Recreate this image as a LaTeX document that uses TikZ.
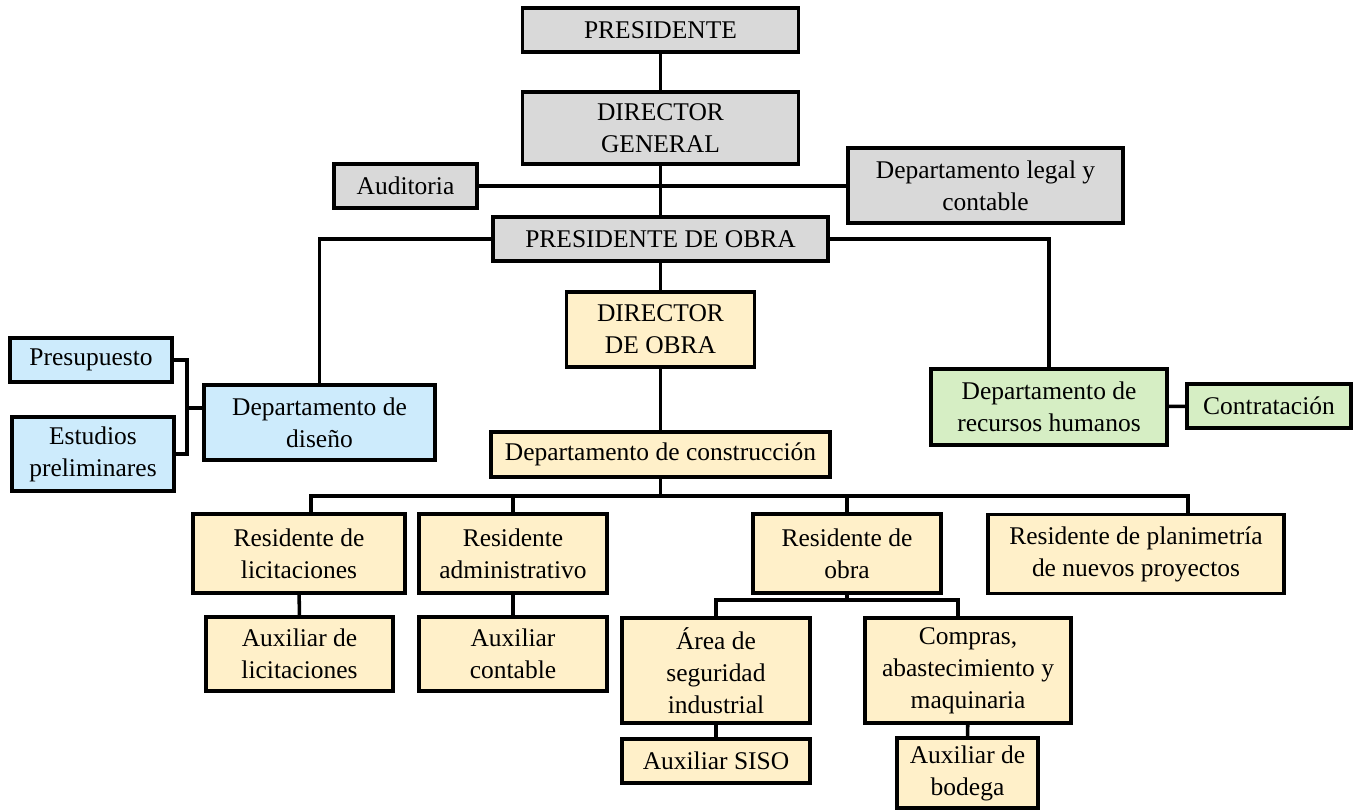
\documentclass[tikz,border=0pt]{standalone}
\usepackage{fontspec}
\setmainfont{Liberation Serif}
\usepackage{xcolor}
\usepackage{tikz}
\usetikzlibrary{positioning}
\definecolor{cgris}{HTML}{D9D9D9}
\definecolor{cazul}{HTML}{CDEBFC}
\definecolor{camar}{HTML}{FFF0C9}
\definecolor{cverde}{HTML}{D6EEC4}

\begin{document}
\begin{tikzpicture}[
  caja/.style={draw,line width=1.9pt,inner sep=0pt,align=center,
    font=\fontsize{14.5}{18.2}\selectfont},
  gris/.style={caja,fill=cgris},
  azul/.style={caja,fill=cazul},
  amar/.style={caja,fill=camar},
  verde/.style={caja,fill=cverde},
  lin/.style={line width=2pt}
]
  \useasboundingbox (0,0) rectangle (27.06,-16.22);

  \node[gris,minimum width=5.52cm,minimum height=0.88cm] (pres) at (13.21,-0.60) {PRESIDENTE};
  \node[gris,minimum width=5.52cm,minimum height=1.44cm] (dirg) at (13.21,-2.56) {DIRECTOR\\GENERAL};
  \node[gris,minimum width=2.86cm,minimum height=0.88cm] (aud) at (8.11,-3.72) {Auditoria};
  \node[gris,minimum width=5.50cm,minimum height=1.50cm] (legal) at (19.71,-3.71) {Departamento legal y\\contable};
  \node[gris,minimum width=6.70cm,minimum height=0.88cm] (pobra) at (13.21,-4.78) {PRESIDENTE DE OBRA};

  \node[amar,minimum width=3.76cm,minimum height=1.50cm] (dobra) at (13.21,-6.59) {DIRECTOR\\DE OBRA};
  \node[amar,minimum width=6.78cm,minimum height=0.90cm] (dcons) at (13.21,-9.09) {Departamento de construcción};

  \node[azul,minimum width=4.62cm,minimum height=1.50cm] (diseno) at (6.39,-8.45) {Departamento de\\diseño};
  \node[azul,minimum width=3.24cm,minimum height=0.88cm] (presup) at (1.82,-7.20) {Presupuesto};
  \node[azul,minimum width=3.24cm,minimum height=1.48cm] (estud) at (1.86,-9.08) {Estudios\\preliminares};

  \node[verde,minimum width=4.72cm,minimum height=1.52cm] (rrhh) at (20.98,-8.14) {Departamento de\\recursos humanos};
  \node[verde,minimum width=3.28cm,minimum height=0.88cm] (contr) at (25.38,-8.12) {Contratación};

  \node[amar,minimum width=4.24cm,minimum height=1.58cm] (rlic) at (5.98,-11.07) {Residente de\\licitaciones};
  \node[amar,minimum width=3.76cm,minimum height=1.58cm] (radm) at (10.26,-11.07) {Residente\\administrativo};
  \node[amar,minimum width=3.76cm,minimum height=1.58cm] (robra) at (16.94,-11.07) {Residente de\\obra};
  \node[amar,minimum width=5.92cm,minimum height=1.58cm] (rplan) at (22.72,-11.08) {Residente de planimetría\\de nuevos proyectos};

  \node[amar,minimum width=3.74cm,minimum height=1.48cm] (alic) at (5.99,-13.08) {Auxiliar de\\licitaciones};
  \node[amar,minimum width=3.76cm,minimum height=1.48cm] (acont) at (10.26,-13.08) {Auxiliar\\contable};
  \node[amar,minimum width=3.76cm,minimum height=2.10cm] (area) at (14.32,-13.41) {Área de\\seguridad\\industrial};
  \node[amar,minimum width=4.12cm,minimum height=2.10cm] (compras) at (19.36,-13.41) {Compras,\\abastecimiento y\\maquinaria};
  \node[amar,minimum width=3.76cm,minimum height=0.88cm] (asiso) at (14.32,-15.22) {Auxiliar SISO};
  \node[amar,minimum width=2.82cm,minimum height=1.40cm] (abod) at (19.35,-15.46) {Auxiliar de\\bodega};

  \coordinate (brk) at (3.74,-8.16);
  \coordinate (bus) at (13.21,-9.92);
  \coordinate (busL) at (6.22,-9.92);
  \coordinate (busR) at (23.76,-9.92);
  \coordinate (subR) at (19.16,-12.00);

  \draw[lin] (pres) -- (dirg);
  \draw[lin] (dirg) -- (pobra);
  \draw[lin] (aud) -- (aud -| legal.west);
  \draw[lin] (pobra.west) -| (diseno.north);
  \draw[lin] (pobra.east) -| (rrhh.north);
  \draw[lin] (pobra) -- (dobra);
  \draw[lin] (dobra) -- (dcons);
  \draw[lin] (rrhh) -- (contr);
  \draw[lin] (presup.east) -| (brk) |- (estud.east);
  \draw[lin] (brk) -- (brk -| diseno.west);

  \draw[lin] (dcons) -- (bus);
  \draw[lin] (busL |- rlic.north) -- (busL) -- (busR) -- (busR |- rplan.north);
  \draw[lin] (radm.north) -- (radm.north |- bus);
  \draw[lin] (robra.north) -- (robra.north |- bus);
  \draw[lin] (rlic) -- (alic);
  \draw[lin] (radm) -- (acont);
  \draw[lin] (robra.south) -- (robra.south |- subR);
  \draw[lin] (area.north) |- (subR) -- (subR |- compras.north);
  \draw[lin] (area) -- (asiso);
  \draw[lin] (compras) -- (abod);
\end{tikzpicture}
\end{document}
